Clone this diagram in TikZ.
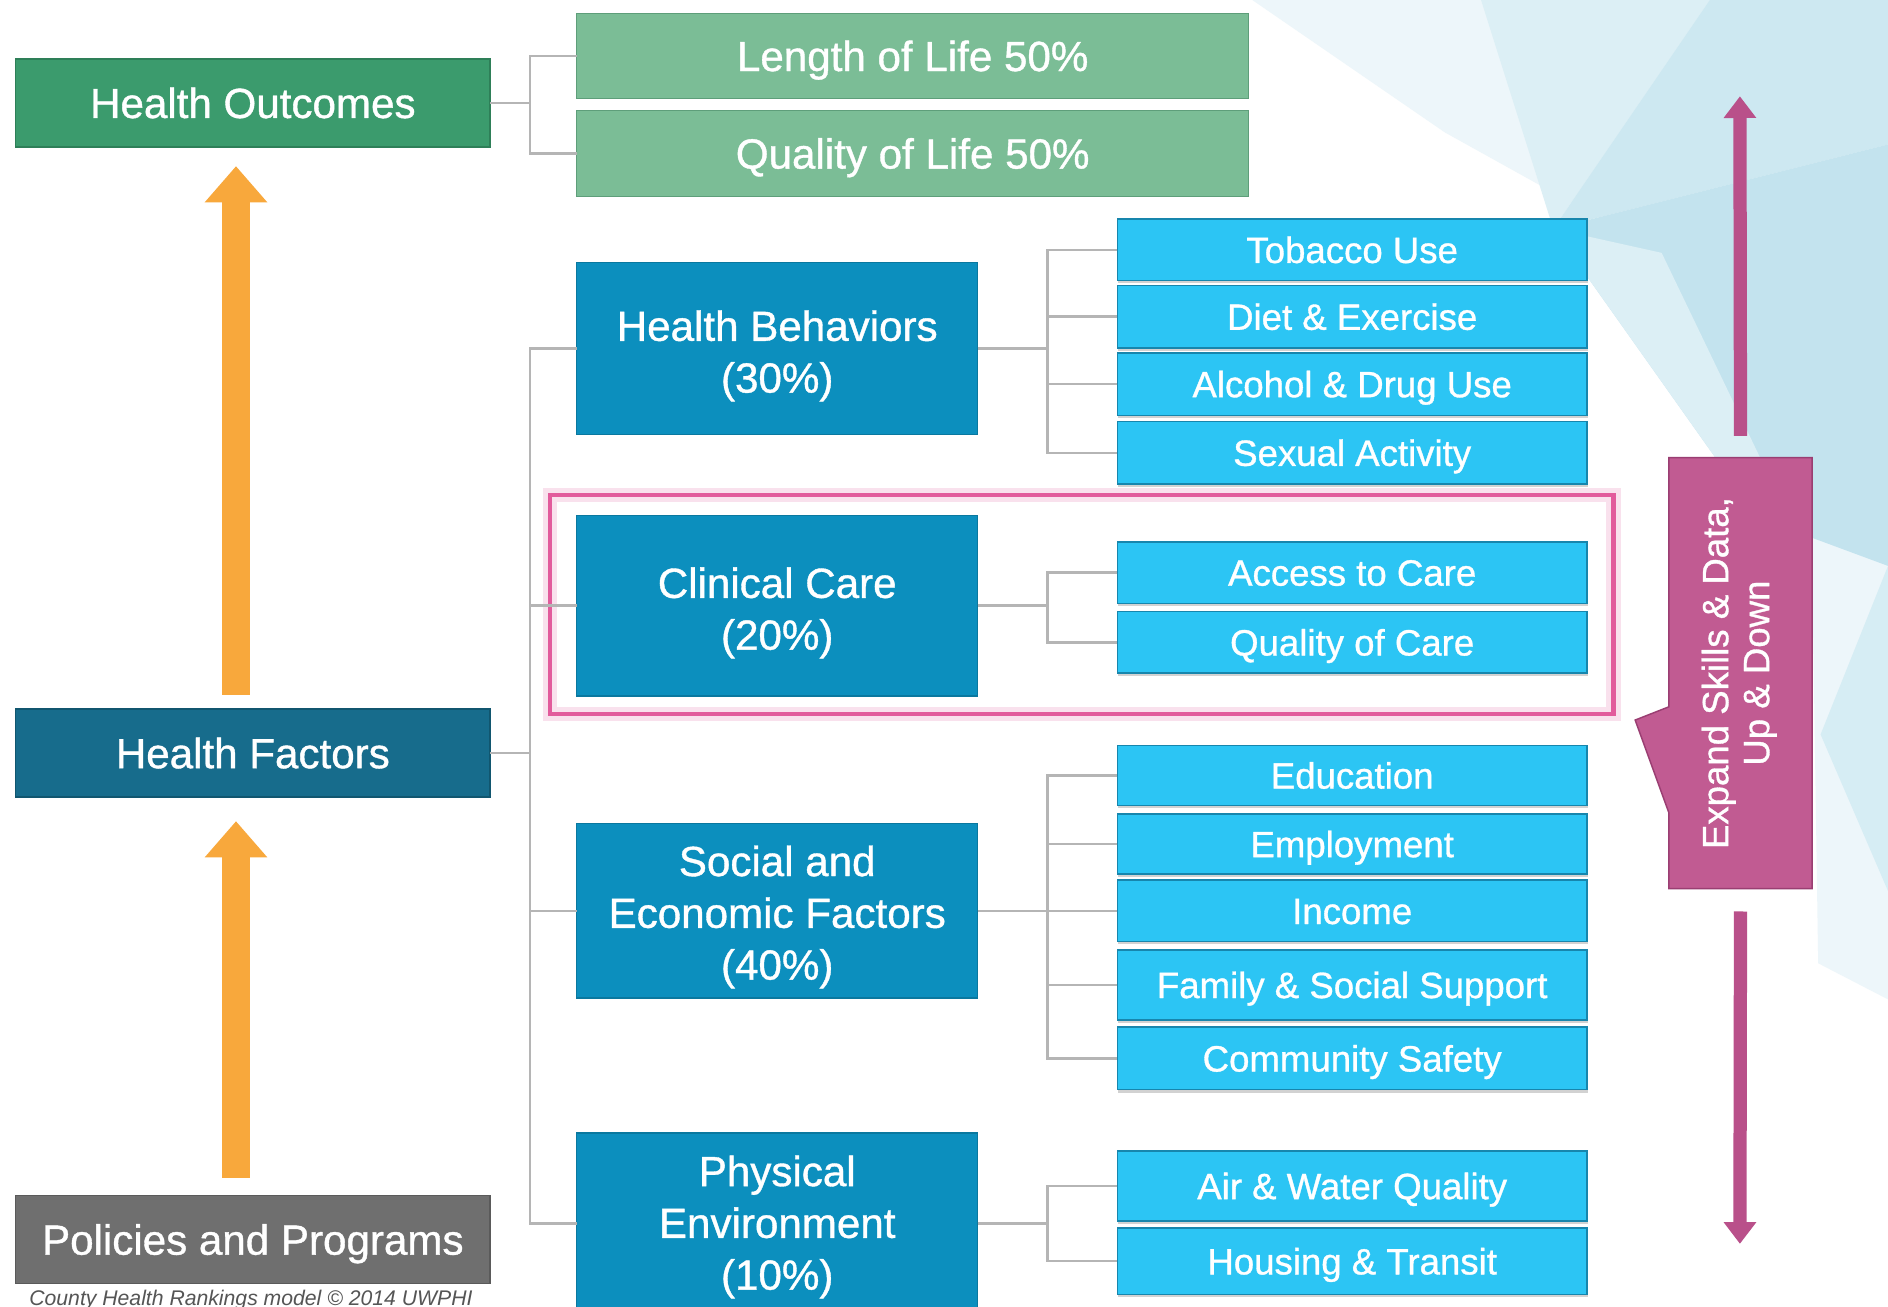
\documentclass[tikz,border=0pt]{standalone}
\usepackage{fontspec}
\setmainfont{Liberation Sans}[BoldFont={Liberation Sans}, BoldFeatures={FakeBold=0.9}]
\usetikzlibrary{arrows.meta,shadows,calc}
\definecolor{outgreen}{HTML}{3B9B6D}
\definecolor{outgreendk}{HTML}{2E7F58}
\definecolor{lifegreen}{HTML}{7BBD96}
\definecolor{lifegreendk}{HTML}{5E9E7A}
\definecolor{factblue}{HTML}{176C8C}
\definecolor{factbluedk}{HTML}{11566F}
\definecolor{grpblue}{HTML}{0C8FBE}
\definecolor{grpbluedk}{HTML}{0A789F}
\definecolor{itemblue}{HTML}{2CC5F4}
\definecolor{itembluedk}{HTML}{1786AD}
\definecolor{polgray}{HTML}{6F6F6F}
\definecolor{polgraydk}{HTML}{5A5A5A}
\definecolor{conngray}{HTML}{B5B5B5}
\definecolor{arrorange}{HTML}{F8A83C}
\definecolor{magarr}{HTML}{B9508A}
\definecolor{callfill}{HTML}{C15B92}
\definecolor{calldk}{HTML}{9A3E72}
\definecolor{pinkhl}{HTML}{E25B9C}
\definecolor{bgA}{HTML}{EDF6FA}
\definecolor{bgB}{HTML}{DCEFF5}
\definecolor{bgC}{HTML}{CDE8F1}
\definecolor{bgD}{HTML}{C3E3EE}
\definecolor{bgE}{HTML}{D6EDF4}
\definecolor{capgray}{HTML}{555555}
\newcommand\mybox[7]{\node[#6, minimum width={(#4-#2)*0.5pt}, minimum height={(#5-#3)*0.5pt}] (#1) at ({(#2+#4)/2},{(#3+#5)/2}) {#7};}
\newcommand\grpbox[7]{\node[grp, minimum width={(#4-#2)*0.5pt}, minimum height={(#5-#3)*0.5pt}] (#1) at ({(#2+#4)/2},{(#3+#5)/2}) {};
  \node[grptext] (#1-t) at ([yshift=#6]#1.center) {#7};}
\begin{document}
\begin{tikzpicture}[x=0.5pt,y=-0.5pt,
  boxbase/.style={inner sep=0pt, outer sep=0pt, text=white, align=center, line width=0.6pt},
  bigfont/.style={font=\fontsize{17.5}{21.5}\selectfont\bfseries},
  capbig/.style={text height=12.5pt, text depth=0pt},
  capsmall/.style={text height=10.9pt, text depth=0pt},
  outc/.style={boxbase, bigfont, capbig, fill=outgreen, draw=outgreendk},
  life/.style={boxbase, bigfont, capbig, fill=lifegreen, draw=lifegreendk},
  fact/.style={boxbase, bigfont, capbig, fill=factblue, draw=factbluedk},
  grp/.style={boxbase, fill=grpblue, draw=grpbluedk},
  grptext/.style={inner sep=0pt, outer sep=0pt, text=white, align=center, bigfont},
  polbox/.style={boxbase, bigfont, capbig, fill=polgray, draw=polgraydk},
  subitem/.style={boxbase, capsmall, font=\fontsize{15.2}{17}\selectfont\bfseries, fill=itemblue, draw=itembluedk,
     drop shadow={shadow xshift=0.4pt, shadow yshift=-1.2pt, opacity=0.35}},
  conn/.style={draw=conngray, line width=1pt},
  uparrow/.style={draw=arrorange, line width=12pt, line cap=butt, -{Triangle[width=25pt,length=15pt]}},
  magarrow/.style={draw=magarr, line width=5.5pt, line cap=butt, -{Triangle[width=13pt,length=9pt]}},
]
\useasboundingbox (0,0) rectangle (1568,1085);
\fill[white] (0,0) rectangle (1568,1085);
% background facets
\fill[bgA] (1040,0) -- (1568,0) -- (1568,830) -- (1510,800) -- (1505,470) -- (1380,210) -- (1200,110) -- cycle;
\fill[bgB] (1230,0) -- (1420,0) -- (1290,190) -- cycle;
\fill[bgC] (1420,0) -- (1568,0) -- (1568,120) -- (1290,190) -- cycle;
\fill[bgD] (1290,190) -- (1568,120) -- (1568,470) -- (1460,430) -- cycle;
\fill[bgE] (1568,470) -- (1568,740) -- (1512,610) -- cycle;
\fill[bgB] (1380,210) -- (1290,190) -- (1460,430) -- (1505,470) -- cycle;

% highlight
\draw[pinkhl, line width=6pt, opacity=0.18] (457,411) rectangle (1340,593);
\draw[pinkhl, line width=1.8pt] (457,411) rectangle (1340,593);

% left column
\mybox{outc}{13}{49}{407}{122}{outc}{Health Outcomes}
\mybox{fact}{13}{589}{407}{662}{fact}{Health Factors}
\mybox{pol}{13}{993}{407}{1066}{polbox}{Policies and Programs}
% outcomes
\mybox{len}{479}{11}{1037}{82}{life}{Length of Life 50\%}
\mybox{qual}{479}{92}{1037}{163}{life}{Quality of Life 50\%}
% groups
\grpbox{hb}{479}{218}{812}{361}{-3pt}{Health Behaviors\\(30\%)}
\grpbox{cc}{479}{428}{812}{578}{-3pt}{Clinical Care\\(20\%)}
\grpbox{se}{479}{684}{812}{829}{-2.5pt}{Social and\\Economic Factors\\(40\%)}
\grpbox{pe}{479}{941}{812}{1091}{-1.5pt}{Physical\\Environment\\(10\%)}
% items
\mybox{tob}{928}{182}{1318}{233}{subitem}{Tobacco Use}
\mybox{die}{928}{237}{1318}{289}{subitem}{Diet \& Exercise}
\mybox{alc}{928}{293}{1318}{345}{subitem}{Alcohol \& Drug Use}
\mybox{sex}{928}{350}{1318}{402}{subitem}{Sexual Activity}
\mybox{acc}{928}{450}{1318}{501}{subitem}{Access to Care}
\mybox{qoc}{928}{508}{1318}{559}{subitem}{Quality of Care}
\mybox{edu}{928}{619}{1318}{669}{subitem}{Education}
\mybox{emp}{928}{676}{1318}{726}{subitem}{Employment}
\mybox{inc}{928}{731}{1318}{782}{subitem}{Income}
\mybox{fam}{928}{789}{1318}{847}{subitem}{Family \& Social Support}
\mybox{com}{928}{853}{1318}{905}{subitem}{Community Safety}
\mybox{air}{928}{956}{1318}{1014}{subitem}{Air \& Water Quality}
\mybox{hou}{928}{1020}{1318}{1075}{subitem}{Housing \& Transit}

% junctions
\coordinate (jo) at (440,85.5);
\coordinate (jf) at (440,625.5);
\coordinate (jhb) at (870,289.5);
\coordinate (jcc) at (870,503);
\coordinate (jse) at (870,756.5);
\coordinate (jpe) at (870,1016);

% connectors
\draw[conn] (outc.east) -- (jo);
\draw[conn] (len.west) -| (jo) |- (qual.west);
\draw[conn] (fact.east) -- (jf);
\draw[conn] (hb.west) -| (jf) |- (pe.west);
\draw[conn] (cc.west) -- (cc.west -| jf);
\draw[conn] (se.west) -- (se.west -| jf);
\draw[conn] (hb.east) -- (jhb);
\draw[conn] (tob.west) -| (jhb) |- (sex.west);
\draw[conn] (die.west) -- (die.west -| jhb);
\draw[conn] (alc.west) -- (alc.west -| jhb);
\draw[conn] (cc.east) -- (jcc);
\draw[conn] (acc.west) -| (jcc) |- (qoc.west);
\draw[conn] (se.east) -- (jse);
\draw[conn] (edu.west) -| (jse) |- (com.west);
\draw[conn] (emp.west) -- (emp.west -| jse);
\draw[conn] (inc.west) -- (inc.west -| jse);
\draw[conn] (fam.west) -- (fam.west -| jse);
\draw[conn] (pe.east) -- (jpe);
\draw[conn] (air.west) -| (jpe) |- (hou.west);

% orange arrows
\draw[uparrow] ([xshift=-7pt,yshift=7.5pt]pol.north) -- ([xshift=-7pt,yshift=-10pt]fact.south);
\draw[uparrow] ([xshift=-7pt,yshift=6pt]fact.north) -- ([xshift=-7pt,yshift=-8pt]outc.south);

% callout
\fill[callfill, draw=calldk, line width=0.6pt] (1386,380) -- (1505,380) -- (1505,738) -- (1386,738) -- (1386,675) -- (1358,598) -- (1386,587) -- cycle;
\node[inner sep=0pt, outer sep=0pt, minimum width=59.5pt, minimum height=179pt, text=white] (callout) at (1445.5,559)
  {\rotatebox{90}{\fontsize{15.2}{17}\selectfont\bfseries\begin{tabular}{@{}c@{}}Expand Skills \& Data,\\Up \& Down\end{tabular}}};
\coordinate (mtop) at (1445,80);
\coordinate (mbot) at (1445,1033);
\draw[magarrow] ([yshift=9pt]callout.north) -- (mtop);
\draw[magarrow] ([yshift=-9.5pt]callout.south) -- (mbot);

% caption
\node[anchor=north west, inner sep=0pt, text=capgray, font=\fontsize{8.8}{10}\selectfont\itshape] (cap) at (24,1071) {County Health Rankings model \textcopyright{} 2014 UWPHI};
\end{tikzpicture}
\end{document}
